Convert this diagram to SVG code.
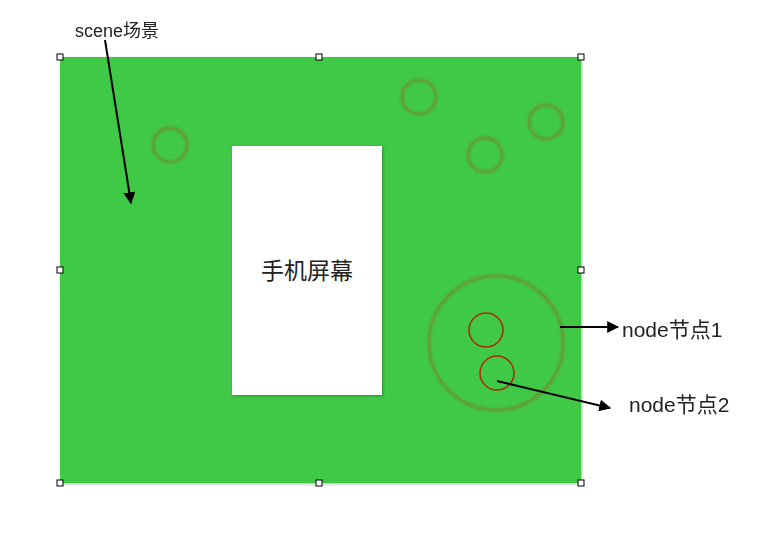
<svg xmlns="http://www.w3.org/2000/svg" width="757" height="539" viewBox="0 0 757 539">
<defs>
<style>
.lbl{font-family:"Liberation Sans","Noto Sans CJK SC",sans-serif;fill:#222}
.ring{fill:none;stroke:#6e8f30;stroke-width:3;opacity:0.85}
.red{fill:none;stroke:#a8300c;stroke-width:1.6}
.handle{fill:#fff;stroke:#000;stroke-width:1}
.conn{stroke:#000;stroke-width:2;fill:none;marker-end:url(#ah)}
</style>
<marker id="ah" viewBox="0 0 10 10" refX="9" refY="5" markerWidth="6" markerHeight="6" orient="auto"><path d="M0,0 L10,5 L0,10 z" fill="#000"/></marker>
<filter id="blur" x="-20%" y="-20%" width="140%" height="140%"><feGaussianBlur stdDeviation="0.8"/></filter>
<filter id="sh" x="-10%" y="-10%" width="120%" height="120%"><feDropShadow dx="1" dy="1" stdDeviation="1.5" flood-opacity="0.3"/></filter>
</defs>
<rect width="757" height="539" fill="#fff"/>
<g id="scene">
<rect x="60" y="57" width="521" height="426" fill="#3fc846" filter="url(#sh)"/>
</g>
<g id="screen">
<rect x="232" y="146" width="150" height="249" fill="#fff" filter="url(#sh)"/>
<text class="lbl" x="307" y="279" font-size="23" text-anchor="middle">手机屏幕</text>
</g>
<g id="rings" filter="url(#blur)">
<circle class="ring" cx="170" cy="145" r="17"/>
<circle class="ring" cx="419" cy="97" r="17"/>
<circle class="ring" cx="485" cy="155" r="17"/>
<circle class="ring" cx="546" cy="122" r="17"/>
<circle class="ring" cx="496" cy="343" r="67"/>
</g>
<g id="node1"><circle class="red" cx="486" cy="330" r="17"/></g>
<g id="node2"><circle class="red" cx="497" cy="373" r="17"/></g>
<g id="handles">
<rect class="handle" x="57" y="54" width="6" height="6"/>
<rect class="handle" x="316" y="54" width="6" height="6"/>
<rect class="handle" x="578" y="54" width="6" height="6"/>
<rect class="handle" x="57" y="267" width="6" height="6"/>
<rect class="handle" x="578" y="267" width="6" height="6"/>
<rect class="handle" x="57" y="480" width="6" height="6"/>
<rect class="handle" x="316" y="480" width="6" height="6"/>
<rect class="handle" x="578" y="480" width="6" height="6"/>
</g>
<g id="connectors">
<line class="conn" x1="105" y1="40" x2="131" y2="203"/>
<line class="conn" x1="560" y1="327" x2="618" y2="327"/>
<line class="conn" x1="497" y1="381" x2="610" y2="408"/>
</g>
<g id="labels">
<text class="lbl" x="75" y="37" font-size="18">scene场景</text>
<text class="lbl" x="622" y="337" font-size="21">node节点1</text>
<text class="lbl" x="629" y="412" font-size="21">node节点2</text>
</g>
</svg>
